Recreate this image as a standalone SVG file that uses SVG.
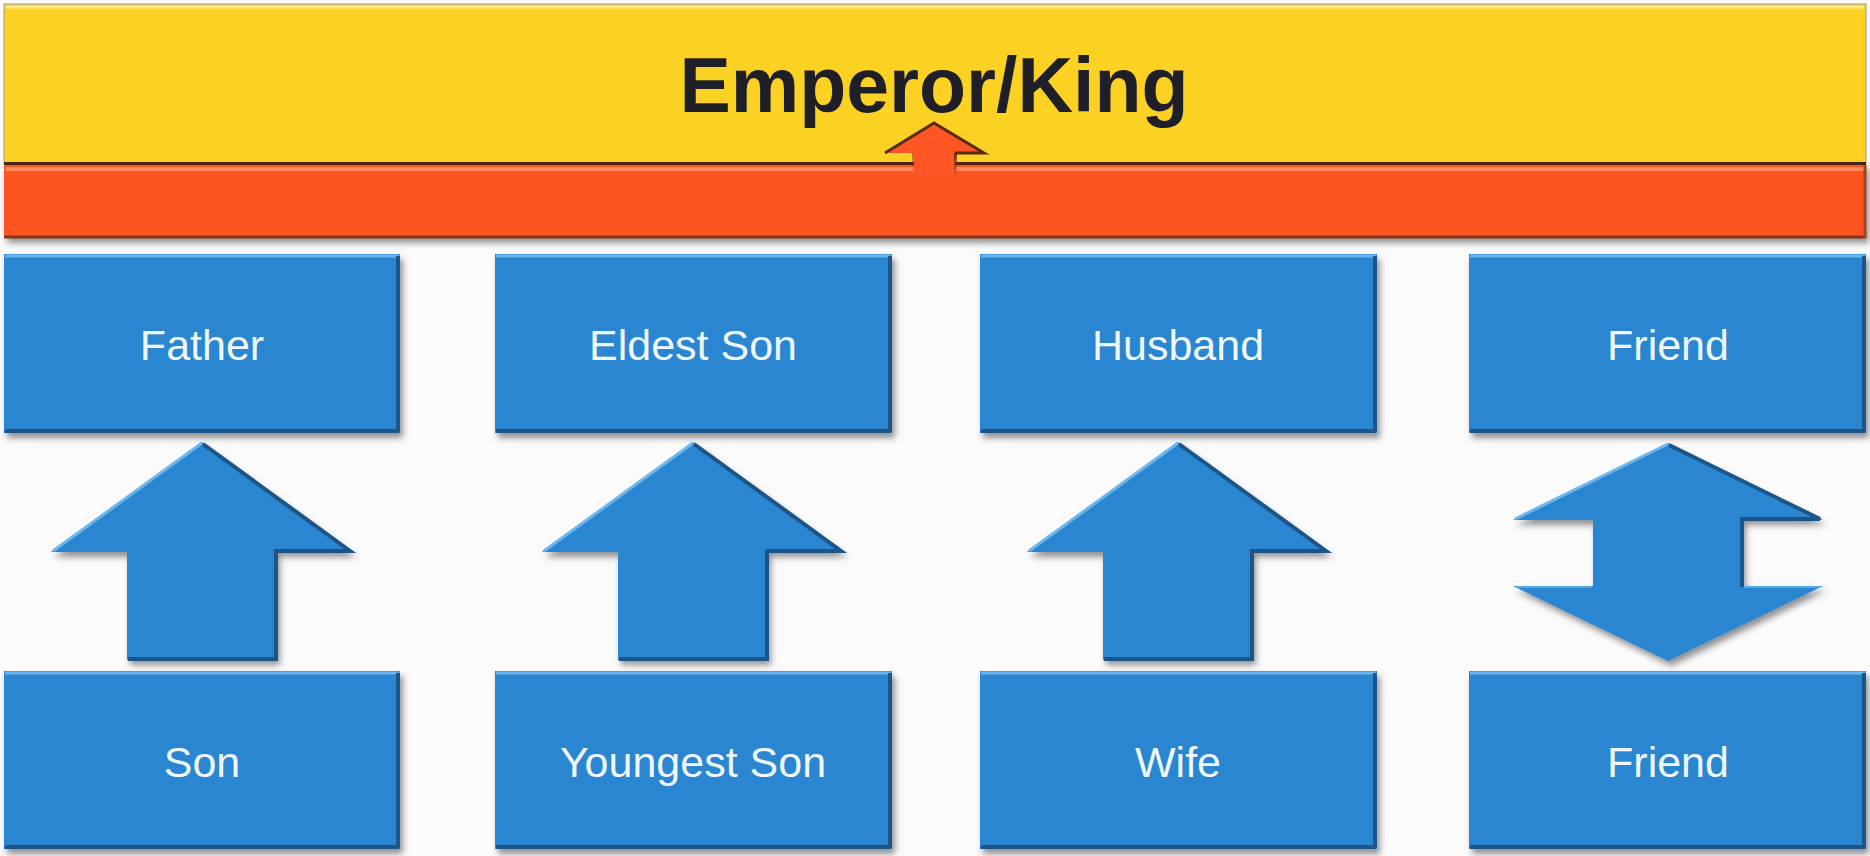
<svg xmlns="http://www.w3.org/2000/svg" width="1870" height="856" viewBox="0 0 1870 856">
<defs>
<filter id="sh" x="-10%" y="-10%" width="125%" height="130%">
<feDropShadow dx="3" dy="5" stdDeviation="3" flood-color="#3a3a3a" flood-opacity="0.55"/>
</filter>
<linearGradient id="shaftFade" x1="0" y1="0" x2="0" y2="1">
<stop offset="0" stop-color="#6a2c12" stop-opacity="1"/>
<stop offset="1" stop-color="#6a2c12" stop-opacity="0"/>
</linearGradient>
<style>
.box{fill:#2a86d0;filter:url(#sh)}
.hl{stroke:#6bb6ee;stroke-width:3;fill:none}
.dk{stroke:#1c5688;stroke-width:4;fill:none}
.lbl{font-family:"Liberation Sans",Arial,sans-serif;font-size:43px;fill:#eef6ff;text-anchor:middle}
.arr{fill:#2a86d0;filter:url(#sh)}
</style>
</defs>
<rect x="0" y="0" width="1870" height="856" fill="#fbfbfb"/>

<g id="banner">
<rect x="4" y="4" width="1862" height="159" fill="#fbd124" stroke="#9a9a9a" stroke-width="1"/>
<line x1="6" y1="7" x2="1864" y2="7" stroke="#fde98a" stroke-width="3"/>
<rect x="4" y="163" width="1862" height="75" fill="#fd5523" filter="url(#sh)"/>
<line x1="4" y1="163.5" x2="1866" y2="163.5" stroke="#4a2410" stroke-width="3"/>
<line x1="6" y1="169" x2="1864" y2="169" stroke="#ff8a5e" stroke-width="4"/>
<line x1="4" y1="237" x2="1866" y2="237" stroke="#8a3418" stroke-width="3"/>
<line x1="1865" y1="165" x2="1865" y2="238" stroke="#a8401c" stroke-width="3"/>
<text x="934" y="112" font-family="'Liberation Sans',Arial,sans-serif" font-weight="bold" font-size="77" fill="#1f1f28" text-anchor="middle">Emperor/King</text>
</g>

<g id="father">
<rect class="box" x="4" y="254" width="396" height="179"/>
<line class="hl" x1="5" y1="256" x2="399" y2="256"/>
<line class="dk" x1="398" y1="256" x2="398" y2="432"/>
<line class="dk" x1="5" y1="431" x2="399" y2="431"/>
<text class="lbl" x="202" y="360">Father</text>
</g>
<g id="eldest-son">
<rect class="box" x="495" y="254" width="397" height="179"/>
<line class="hl" x1="496" y1="256" x2="891" y2="256"/>
<line class="dk" x1="890" y1="256" x2="890" y2="432"/>
<line class="dk" x1="496" y1="431" x2="891" y2="431"/>
<text class="lbl" x="693" y="360">Eldest Son</text>
</g>
<g id="husband">
<rect class="box" x="980" y="254" width="397" height="179"/>
<line class="hl" x1="981" y1="256" x2="1376" y2="256"/>
<line class="dk" x1="1375" y1="256" x2="1375" y2="432"/>
<line class="dk" x1="981" y1="431" x2="1376" y2="431"/>
<text class="lbl" x="1178" y="360">Husband</text>
</g>
<g id="friend-top">
<rect class="box" x="1469" y="254" width="397" height="179"/>
<line class="hl" x1="1470" y1="256" x2="1865" y2="256"/>
<line class="dk" x1="1864" y1="256" x2="1864" y2="432"/>
<line class="dk" x1="1470" y1="431" x2="1865" y2="431"/>
<text class="lbl" x="1668" y="360">Friend</text>
</g>

<g id="son">
<rect class="box" x="4" y="671" width="396" height="178"/>
<line class="hl" x1="5" y1="673" x2="399" y2="673"/>
<line class="dk" x1="398" y1="673" x2="398" y2="848"/>
<line class="dk" x1="5" y1="847" x2="399" y2="847"/>
<text class="lbl" x="202" y="777">Son</text>
</g>
<g id="youngest-son">
<rect class="box" x="495" y="671" width="397" height="178"/>
<line class="hl" x1="496" y1="673" x2="891" y2="673"/>
<line class="dk" x1="890" y1="673" x2="890" y2="848"/>
<line class="dk" x1="496" y1="847" x2="891" y2="847"/>
<text class="lbl" x="693" y="777">Youngest Son</text>
</g>
<g id="wife">
<rect class="box" x="980" y="671" width="397" height="178"/>
<line class="hl" x1="981" y1="673" x2="1376" y2="673"/>
<line class="dk" x1="1375" y1="673" x2="1375" y2="848"/>
<line class="dk" x1="981" y1="847" x2="1376" y2="847"/>
<text class="lbl" x="1178" y="777">Wife</text>
</g>
<g id="friend-bottom">
<rect class="box" x="1469" y="671" width="397" height="178"/>
<line class="hl" x1="1470" y1="673" x2="1865" y2="673"/>
<line class="dk" x1="1864" y1="673" x2="1864" y2="848"/>
<line class="dk" x1="1470" y1="847" x2="1865" y2="847"/>
<text class="lbl" x="1668" y="777">Friend</text>
</g>

<g id="connectors">
<g id="arrow-emperor">
<polygon points="934,123 984,153 955,153 955,182 914,182 914,153 885,153" fill="#fd5523"/>
<polyline points="885,153 934,123 984,153 955,153" fill="none" stroke="#5a2a12" stroke-width="3"/>
<rect x="954" y="153" width="3" height="24" fill="url(#shaftFade)"/>
<rect x="912" y="153" width="2" height="20" fill="url(#shaftFade)" opacity="0.6"/>
</g>
<g id="arrow-son-father">
<polygon class="arr" points="202,442 353,552 277,552 277,660 127,660 127,552 51,552"/>
<line class="hl" x1="53" y1="551" x2="202" y2="443"/>
<polyline class="dk" points="203,444 350,551 276,551 276,659 128,659"/>
</g>
<g id="arrow-youngest-eldest">
<polygon class="arr" points="693,442 844,552 768,552 768,660 618,660 618,552 542,552"/>
<line class="hl" x1="544" y1="551" x2="693" y2="443"/>
<polyline class="dk" points="694,444 841,551 767,551 767,659 619,659"/>
</g>
<g id="arrow-wife-husband">
<polygon class="arr" points="1178,442 1329,552 1253,552 1253,660 1103,660 1103,552 1027,552"/>
<line class="hl" x1="1029" y1="551" x2="1178" y2="443"/>
<polyline class="dk" points="1179,444 1326,551 1252,551 1252,659 1104,659"/>
</g>
<g id="arrow-friend-friend">
<polygon class="arr" points="1668,443 1823,520 1743,520 1743,586 1823,586 1668,661 1513,586 1593,586 1593,520 1513,520"/>
<line class="hl" x1="1515" y1="519" x2="1668" y2="444"/>
<polyline class="dk" points="1669,445 1820,519 1742,519 1742,587"/>
<line x1="1516" y1="587" x2="1592" y2="587" stroke="#5aa8e4" stroke-width="2"/>
<line x1="1744" y1="587" x2="1820" y2="587" stroke="#5aa8e4" stroke-width="2"/>
</g>
</g>
</svg>
